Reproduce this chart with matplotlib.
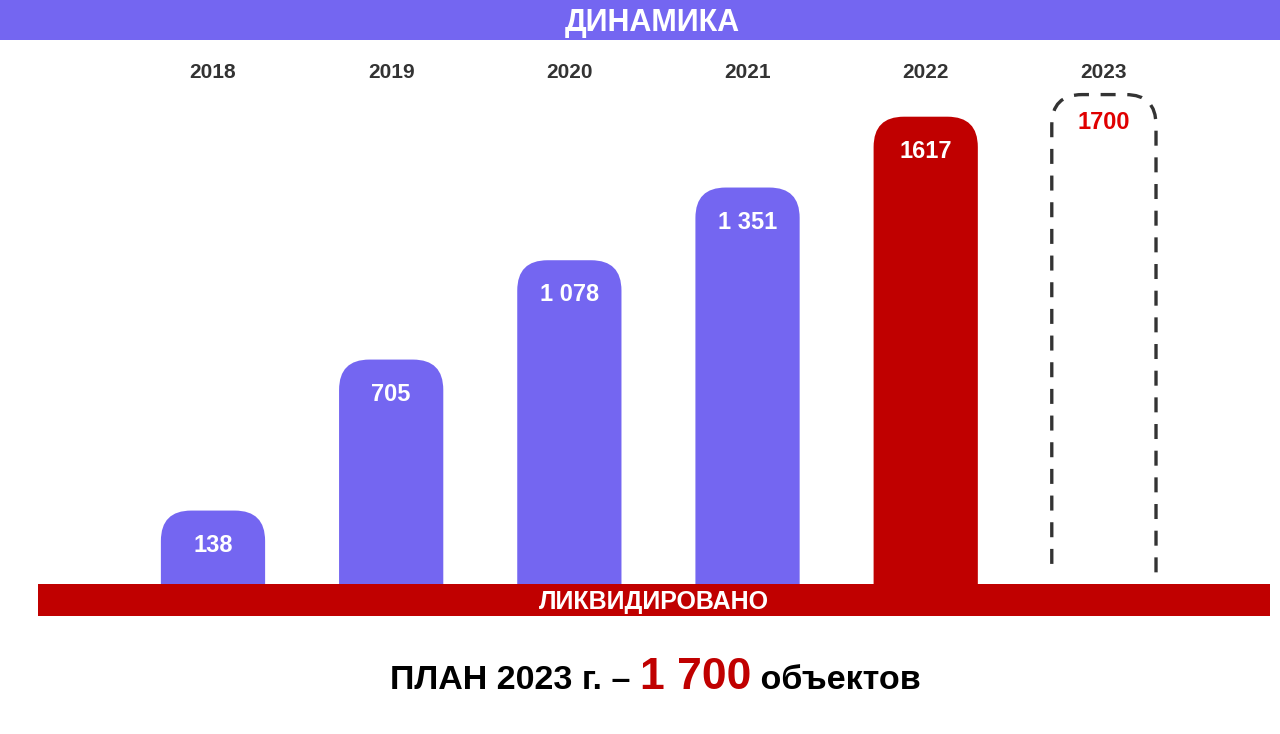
"""Bar infographic: liquidated objects by year, with 2023 plan."""

import matplotlib
matplotlib.use("Agg")
import matplotlib.pyplot as plt
from matplotlib.patches import FancyBboxPatch, Rectangle

plt.rcParams["font.family"] = ["Liberation Sans", "DejaVu Sans"]

years = ["2018", "2019", "2020", "2021", "2022", "2023"]
done = [138, 705, 1078, 1351, 1617]
done_labels = ["138", "705", "1 078", "1 351", "1617"]
plan_value = 1700
plan_label = "1700"
highlight_year = "2022"

title = "ДИНАМИКА"
band_text = "ЛИКВИДИРОВАНО"
footer = ["ПЛАН 2023 г. – ", "1 700", " объектов"]

PURPLE = "#7466F1"
RED = "#C00000"
PLAN_RED = "#E00000"
DARK = "#333333"

# axis runs below the red band so bar bottoms are hidden under it
Y_MIN, Y_MAX = -260, 1900

fig = plt.figure(figsize=(12.8, 7.34), dpi=100)
ax = fig.add_axes([0.0272, 0.16, 0.9605, 0.7837])
ax.set_xlim(-1, 5.9)
ax.set_ylim(Y_MIN, Y_MAX)
ax.axis("off")

# aspect between x and y data units, so corners come out round in pixels
p0 = ax.transData.transform((0, 0))
p1 = ax.transData.transform((1, 1))
aspect = (p1[0] - p0[0]) / (p1[1] - p0[1])
radius = 0.17
width = 0.585

x = list(range(len(years)))
bars = ax.bar(x[:len(done)], [v - Y_MIN for v in done], bottom=Y_MIN,
              width=width, visible=False)
for i, (rect, lab) in enumerate(zip(bars, done_labels)):
    color = RED if years[i] == highlight_year else PURPLE
    box = FancyBboxPatch((rect.get_x(), rect.get_y()), rect.get_width(), rect.get_height(),
                         boxstyle=f"round,pad=0,rounding_size={radius}",
                         mutation_aspect=aspect, facecolor=color, edgecolor="none")
    ax.add_patch(box)
    box.set_clip_path(Rectangle((-1, -200), 8, 3000, transform=ax.transData))
    ax.annotate(lab, (rect.get_x() + rect.get_width() / 2, done[i]),
                xytext=(0, -25), textcoords="offset points", ha="center", va="center",
                color="white", fontsize=17, fontweight="bold")

# plan for 2023: dashed outline, open at the bottom
px = x[len(done)]
plan = FancyBboxPatch((px - width / 2, Y_MIN), width, plan_value - Y_MIN,
                      boxstyle=f"round,pad=0,rounding_size={radius}",
                      mutation_aspect=aspect, facecolor="none", edgecolor=DARK,
                      linewidth=2.4, linestyle=(0, (4.5, 3.5)))
ax.add_patch(plan)
plan.set_clip_path(Rectangle((-1, -104), 8, 3000, transform=ax.transData))
ax.annotate(plan_label, (px, plan_value), xytext=(0, -20), textcoords="offset points",
            ha="center", va="center", color=PLAN_RED, fontsize=17, fontweight="bold")

for i, yr in enumerate(years):
    ax.text(i, 0.945, yr, transform=ax.get_xaxis_transform(), ha="center", va="center",
            fontsize=15, fontweight="bold", color=DARK)

# header and baseline bands
fig.add_artist(Rectangle((0, 0.9455), 1, 0.0545, transform=fig.transFigure,
                         facecolor=PURPLE, edgecolor="none", zorder=2))
fig.text(0.51, 0.968, title, ha="center", va="center", color="white",
         fontsize=22, fontweight="bold", zorder=3)
fig.add_artist(Rectangle((0.0297, 0.1608), 0.9625, 0.0436, transform=fig.transFigure,
                         facecolor=RED, edgecolor="none", zorder=2))
fig.text(0.511, 0.1805, band_text, ha="center", va="center", color="white",
         fontsize=18, fontweight="bold", zorder=3)

# footer line, pieces laid out side by side on one baseline
sizes = [24.5, 32, 24.5]
colors = ["black", RED, "black"]
pieces = [fig.text(0, 0.0613, s, fontsize=fs, fontweight="bold", color=c, va="baseline")
          for s, fs, c in zip(footer, sizes, colors)]
renderer = fig.canvas.get_renderer()
widths = [t.get_window_extent(renderer).width / fig.bbox.width for t in pieces]
left = 0.512 - sum(widths) / 2
for t, w in zip(pieces, widths):
    t.set_x(left)
    left += w

fig.savefig("out.png", dpi=100)
